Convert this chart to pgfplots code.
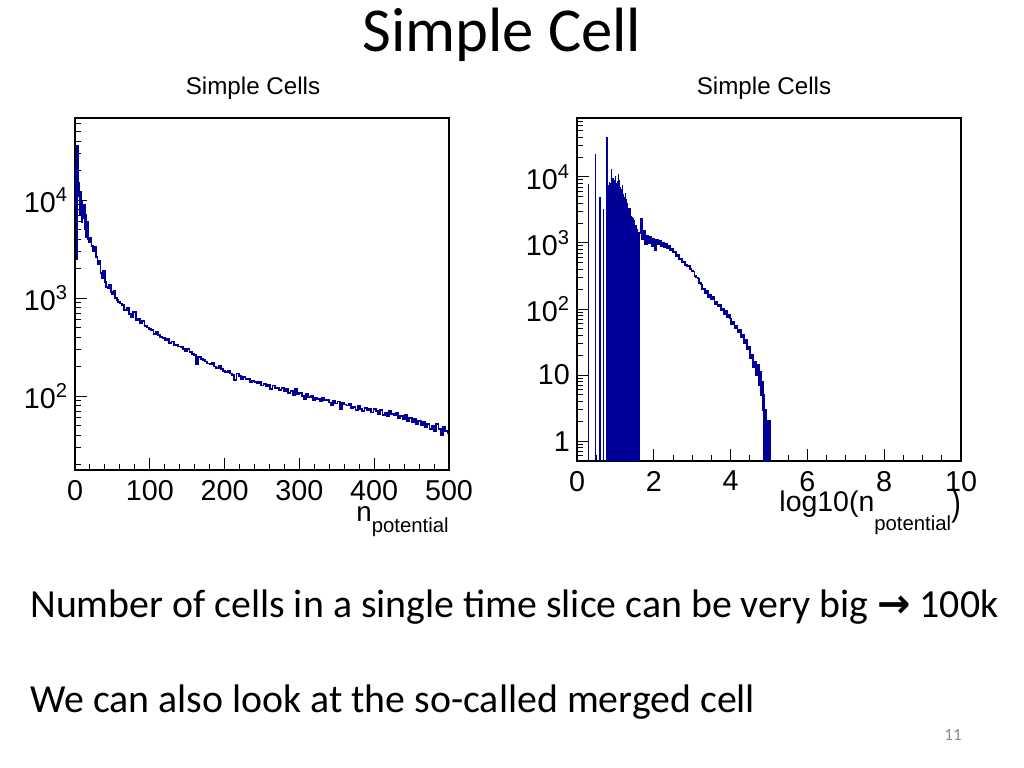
\documentclass[border=0pt]{standalone}
\usepackage{fontspec}
\setmainfont{Carlito}
\newfontfamily\rootfont{Liberation Sans}
\newfontfamily\symfont{DejaVu Sans}
\usepackage{graphicx}
\usepackage{pgfplots}
\pgfplotsset{compat=1.18}
\definecolor{rootblue}{RGB}{0,0,153}
\definecolor{pagegray}{RGB}{140,140,140}

\pgfplotsset{rootaxis/.style={
  scale only axis,
  axis line style={line width=0.8pt},
  tick align=inside,
  xtick pos=left, ytick pos=left,
  major tick length=8.4pt,
  minor tick length=4.2pt,
  every tick/.append style={black, line width=0.7pt},
  xticklabel style={yshift=-3.5pt},
  yticklabel style={xshift=-1.5pt},
  tick label style={font=\rootfont\fontsize{20.2}{20}\selectfont},
}}

\begin{document}
\begin{tikzpicture}[x=0.703125pt,y=-0.703125pt]
\useasboundingbox[fill=white] (0,0) rectangle (1024,768);

% slide text
\node[anchor=base, font=\fontsize{44}{50}\selectfont, inner sep=0pt] at (502,52) {Simple Cell};
\node[anchor=base west, font=\fontsize{28}{34}\selectfont, inner sep=0pt] at (30,617)
  {Number of cells in a single time slice can be very big {\symfont\bfseries\fontsize{28}{28}\selectfont →} 100k};
\node[anchor=base west, font=\fontsize{28}{34}\selectfont, inner sep=0pt] at (30,712)
  {We can also look at the so-called merged cell};
\node[anchor=base, font=\fontsize{12}{14}\selectfont, text=pagegray, inner sep=0pt] at (953,740) {11};

% plot titles
\node[anchor=base, font=\rootfont\fontsize{17}{18}\selectfont, inner sep=0pt] at (253,95) {Simple Cells};
\node[anchor=base, font=\rootfont\fontsize{17}{18}\selectfont, inner sep=0pt] at (764,95) {Simple Cells};

% x labels
\node[anchor=base east, font=\rootfont\fontsize{19.5}{20}\selectfont, inner sep=0pt] at (449,521)
  {n\raisebox{-8.4pt}{\fontsize{14.3}{14}\selectfont potential}};
\node[anchor=base east, font=\rootfont\fontsize{20}{20}\selectfont, inner sep=0pt] at (961,511)
  {log10(n\raisebox{-13.4pt}{\fontsize{14.3}{14}\selectfont potential}\raisebox{-3pt}{\scalebox{1}[1.3]{)}}};

% ---------------- left histogram ----------------
\begin{axis}[rootaxis, ymode=log,
  /pgf/number format/assume math mode=true,
  at={(52.734pt,-330.469pt)}, anchor=south west,
  width=262.97pt, height=247.5pt,
  xmin=0, xmax=500, ymin=17.6, ymax=68700,
  xtick={0,100,200,300,400,500}, minor x tick num=4,
  ytick={100,1000,10000},
  yticklabels={10\textsuperscript{2},10\textsuperscript{3},10\textsuperscript{4}},
  minor ytick={20,30,40,50,60,70,80,90,200,300,400,500,600,700,800,900,2000,3000,4000,5000,6000,7000,8000,9000,20000,30000,40000,50000,60000},
]
\addplot[const plot, rootblue, line width=1.3pt] coordinates {
(0,9000) (1,22000) (2,2500) (3,36000) (4,11000) (5,15000) (6,7000) (7,12000) (8,9500) (9,6000)
(10,8500) (11,6500) (12,9000) (13,5000) (14,7000) (15,4200) (16,6000) (17,4000) (18,3700)
(20,4100) (22,3400) (24,3000) (26,3300) (28,2600) (30,2200) (32,2400) (34,1800) (36,1600) (38,1900)
(40,1450) (42,1300) (44,1250) (46,1350) (48,1150) (50,1100) (52,1180) (54,1000) (56,950) (58,920)
(60,880) (63,850) (66,760) (69,800) (72,690) (75,640) (78,720) (81,600) (84,610) (87,560)
(90,580) (93,520) (96,500) (99,480) (102,470) (105,430) (108,450) (111,420) (114,400) (117,390)
(120,370) (123,380) (126,350) (129,360) (132,335) (135,330) (138,320) (141,315) (144,305) (147,290)
(150,300) (153,280) (156,270) (159,260) (162,210) (165,250) (168,240) (171,235) (174,225) (177,215)
(180,210) (183,220) (186,200) (189,195) (192,205) (195,190) (198,180) (201,175) (204,180) (207,170)
(210,165) (213,145) (216,170) (219,160) (222,150) (225,158) (228,148) (231,150) (234,140) (237,142)
(240,138) (243,135) (246,140) (249,128) (252,132) (255,125) (258,130) (261,118) (264,128) (267,120)
(270,122) (273,116) (276,120) (279,112) (282,118) (285,108) (288,112) (291,102) (294,118) (297,104)
(300,108) (303,100) (306,94) (309,104) (312,98) (315,100) (318,92) (321,96) (324,94) (327,88)
(330,96) (333,90) (336,92) (339,86) (342,80) (345,90) (348,84) (351,88) (354,74) (357,86)
(360,82) (363,80) (366,84) (369,76) (372,78) (375,72) (378,80) (381,74) (384,70) (387,76)
(390,72) (393,74) (396,68) (399,74) (402,70) (405,66) (408,72) (411,64) (414,68) (417,62)
(420,70) (423,66) (426,64) (429,68) (432,60) (435,62) (438,58) (441,64) (444,56) (447,60)
(450,54) (453,58) (456,52) (459,56) (462,50) (465,54) (468,48) (471,52) (474,46) (477,50)
(480,44) (483,52) (486,46) (489,40) (492,48) (495,44) (498,42) (500,42)
};
\end{axis}

% ---------------- right histogram ----------------
\begin{axis}[rootaxis, ymode=log, log origin y=infty,
  /pgf/number format/assume math mode=true,
  at={(405.703pt,-324.141pt)}, anchor=south west,
  width=270pt, height=241.17pt,
  xmin=0, xmax=10, ymin=0.5, ymax=78000,
  xtick={0,2,4,6,8,10}, minor x tick num=3,
  ytick={1,10,100,1000,10000},
  yticklabels={1,10,10\textsuperscript{2},10\textsuperscript{3},10\textsuperscript{4}},
  minor ytick={0.6,0.7,0.8,0.9,2,3,4,5,6,7,8,9,20,30,40,50,60,70,80,90,200,300,400,500,600,700,800,900,2000,3000,4000,5000,6000,7000,8000,9000,20000,30000,40000,50000,60000,70000},
]
% dense filled region of small n
\addplot[const plot, fill=rootblue, draw=rootblue, line width=0.5pt] coordinates {
(0.82,0.5) (0.82,7500) (0.86,8000) (0.89,9500) (0.92,9000) (0.95,8500) (0.98,9000) (1.01,8000)
(1.04,8500) (1.07,7500) (1.10,7000) (1.13,6500) (1.16,6500) (1.19,5500) (1.22,4800) (1.25,4500)
(1.28,3800) (1.31,3400) (1.34,3000) (1.37,2700) (1.40,2400) (1.43,2200) (1.46,2000) (1.49,1850)
(1.52,1700) (1.55,1550) (1.575,0.5)
};
% individual spikes at log10(n)
\addplot[ycomb, rootblue, line width=0.9pt] coordinates {
(0.301,7800) (0.477,22000) (0.602,5000) (0.699,3300) (0.778,40000) (0.845,8500) (0.903,13000)
(0.954,9500) (1.000,10500) (1.041,8000) (1.079,11000) (1.114,9000) (1.146,6500) (1.176,7500)
(1.204,5500) (1.230,5000) (1.255,5800) (1.279,4300) (1.301,3700) (1.322,4000) (1.342,3300)
(1.362,3000) (1.380,3400) (1.398,2700) (1.415,2600) (1.431,2500) (1.447,2300) (1.462,2400)
(1.477,2100) (1.491,2000) (1.505,2200) (1.519,1900) (1.531,1800) (1.544,1900) (1.556,1700)
(1.568,1600)
};
% continuous part
\addplot[const plot, rootblue, line width=1.3pt] coordinates {
(1.60,0.5) (1.62,1400) (1.66,2300) (1.70,1150) (1.74,1500) (1.78,950) (1.82,1300) (1.86,1000)
(1.90,1250) (1.94,900) (1.98,1150) (2.02,780) (2.06,1120) (2.10,950) (2.14,1080) (2.18,900)
(2.22,1000) (2.26,880) (2.30,960) (2.34,840) (2.38,900) (2.42,790) (2.46,820) (2.50,720)
(2.54,740) (2.58,640) (2.62,650) (2.66,570) (2.70,580) (2.74,510) (2.78,520) (2.82,470)
(2.86,440) (2.90,450) (2.94,400) (2.98,380) (3.02,370) (3.06,320) (3.10,300) (3.14,290)
(3.18,250) (3.22,235) (3.26,200) (3.30,205) (3.34,175) (3.38,185) (3.42,150) (3.46,165)
(3.50,140) (3.54,150) (3.58,120) (3.62,130) (3.66,110) (3.70,115) (3.74,95) (3.78,102)
(3.82,85) (3.86,92) (3.90,75) (3.94,82) (3.98,72) (4.02,60) (4.06,64) (4.10,52)
(4.14,56) (4.18,45) (4.22,48) (4.26,38) (4.30,40) (4.34,30) (4.38,34) (4.42,25)
(4.46,27) (4.50,18) (4.54,20) (4.58,13) (4.62,16) (4.66,10) (4.70,14) (4.74,7)
(4.78,11) (4.80,5) (4.82,8) (4.84,3) (4.86,5) (4.88,0.5) (4.90,3) (4.92,2)
(4.94,0.5) (4.96,2) (4.98,1) (5.00,0.5) (5.02,2) (5.04,0.5)
};
\end{axis}
\end{tikzpicture}
\end{document}
